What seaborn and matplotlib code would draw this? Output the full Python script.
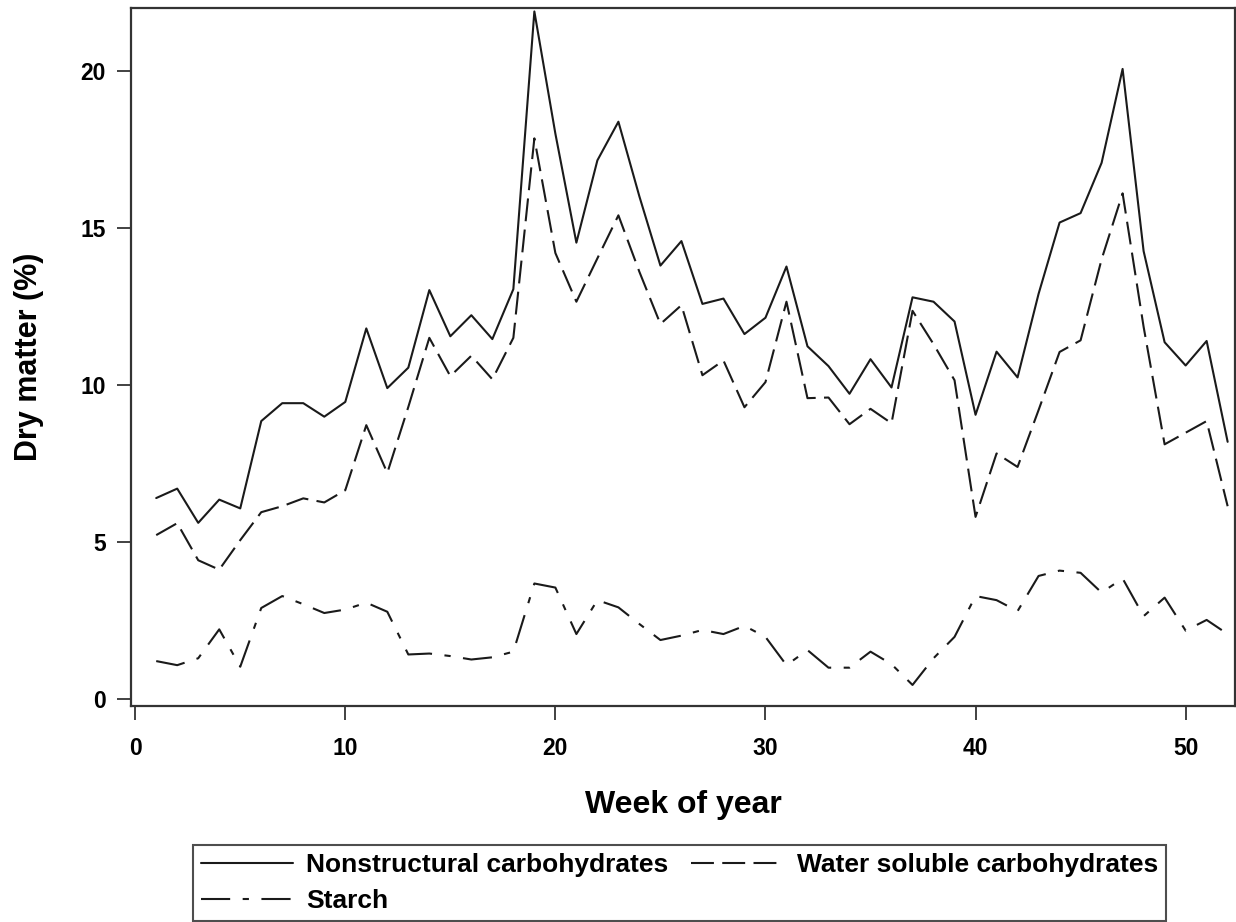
import matplotlib
matplotlib.use("Agg")
import matplotlib.pyplot as plt
import seaborn as sns
import pandas as pd
from matplotlib.lines import Line2D

weeks = list(range(1, 53))

nonstructural = [6.40, 6.70, 5.61, 6.35, 6.07, 8.85, 9.42, 9.42, 8.99, 9.46,
                 11.80, 9.90, 10.55, 13.02, 11.55, 12.22, 11.46, 13.05, 21.89, 18.00,
                 14.53, 17.15, 18.38, 16.00, 13.80, 14.58, 12.58, 12.75, 11.62, 12.14,
                 13.77, 11.23, 10.60, 9.72, 10.82, 9.92, 12.79, 12.65, 12.02, 9.05,
                 11.06, 10.24, 12.90, 15.17, 15.47, 17.07, 20.06, 14.26, 11.36, 10.62,
                 11.40, 8.19]

water_soluble = [5.22, 5.60, 4.42, 4.12, 5.06, 5.95, 6.14, 6.39, 6.26, 6.65,
                 8.72, 7.20, 9.30, 11.50, 10.28, 10.93, 10.18, 11.50, 17.85, 14.20,
                 12.65, 14.03, 15.40, 13.60, 11.94, 12.54, 10.31, 10.78, 9.29, 10.09,
                 12.65, 9.58, 9.60, 8.75, 9.24, 8.78, 12.36, 11.30, 10.15, 5.80,
                 7.82, 7.39, 9.20, 11.05, 11.42, 14.00, 16.10, 11.85, 8.11, 8.48,
                 8.85, 6.14]

starch = [1.21, 1.08, 1.30, 2.22, 1.03, 2.90, 3.28, 3.02, 2.74, 2.85,
          3.07, 2.78, 1.42, 1.45, 1.37, 1.26, 1.33, 1.51, 3.68, 3.55,
          2.07, 3.15, 2.92, 2.39, 1.88, 2.02, 2.20, 2.07, 2.33, 1.98,
          1.08, 1.56, 1.00, 1.00, 1.51, 1.11, 0.45, 1.30, 1.98, 3.28,
          3.15, 2.80, 3.92, 4.09, 4.02, 3.39, 3.84, 2.64, 3.23, 2.18,
          2.52, 2.07]

series_names = ["Nonstructural carbohydrates", "Water soluble carbohydrates", "Starch"]
x_ticks = [0, 10, 20, 30, 40, 50]
y_ticks = [0, 5, 10, 15, 20]

sns.set_theme(style="white")
plt.rcParams['font.family'] = ['Liberation Sans', 'DejaVu Sans']
plt.rcParams['text.color'] = 'black'
plt.rcParams['axes.labelcolor'] = 'black'
plt.rcParams['xtick.color'] = 'black'
plt.rcParams['ytick.color'] = 'black'

df = pd.DataFrame({
    "week": weeks * 3,
    "value": nonstructural + water_soluble + starch,
    "series": [series_names[0]] * 52 + [series_names[1]] * 52 + [series_names[2]] * 52,
})

fig = plt.figure(figsize=(12.36, 9.22), dpi=100)
ax = fig.add_axes([131 / 1236, 1 - 706 / 922, (1235 - 131) / 1236, (706 - 8) / 922])

col = "#1a1a1a"
dash_styles = {
    series_names[0]: "",
    series_names[1]: (11, 4),
    series_names[2]: (14, 6, 3, 6),
}
sns.lineplot(data=df, x="week", y="value", hue="series", style="series",
             palette={n: col for n in series_names}, dashes=dash_styles,
             linewidth=1.5, ax=ax, legend=False)

ax.set_xlim(-0.2, 52.35)
ax.set_ylim(-0.22, 22.0)
ax.set_xticks(x_ticks)
ax.set_yticks(y_ticks)
ax.tick_params(axis="both", which="both", direction="out", length=10, width=1.3,
               color="#333333", labelcolor="black", labelsize=16.5, pad=8,
               bottom=True, left=True)
for lab in ax.get_xticklabels() + ax.get_yticklabels():
    lab.set_fontweight("bold")
ax.tick_params(axis="x", pad=12)
for s in ax.spines.values():
    s.set_color("#333333")
    s.set_linewidth(1.6)

ax.set_xlabel("Week of year", fontsize=23, fontweight="bold", labelpad=22)
ax.set_ylabel("Dry matter (%)", fontsize=22, fontweight="bold", labelpad=26)

handles = {}
for name in series_names:
    ls = dash_styles[name]
    h = Line2D([0], [0], color=col, linewidth=1.5)
    if ls:
        h.set_dashes(ls)
    handles[name] = h
order = [series_names[0], series_names[2], series_names[1]]
leg = fig.legend([handles[n] for n in order], order, ncol=2, loc="lower left",
                 bbox_to_anchor=(193 / 1236, 1 / 922), frameon=True, fancybox=False,
                 prop={"size": 19, "weight": "bold"}, handlelength=3.5,
                 handletextpad=0.5, columnspacing=0.85, labelspacing=0.46,
                 borderpad=0.3, borderaxespad=0.0)
leg.get_frame().set_edgecolor("#222222")
leg.get_frame().set_linewidth(1.5)

fig.savefig("out.png", dpi=100)
